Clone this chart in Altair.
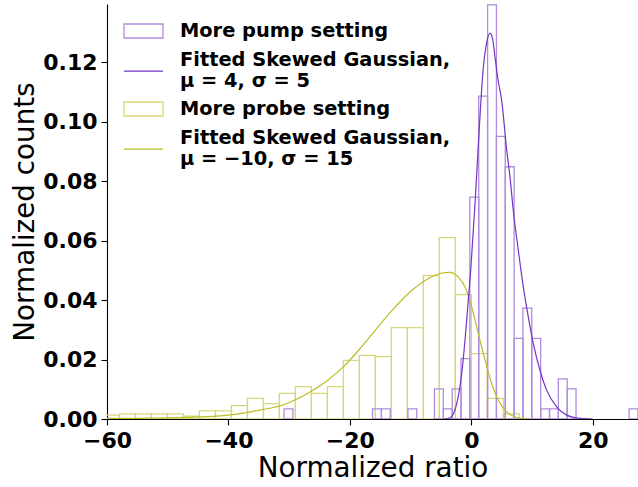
import altair as alt
import pandas as pd

# ---- series names (legend order) ----
S_PUMP = "More pump setting"
S_PUMP_FIT = "Fitted Skewed Gaussian,|μ = 4, σ = 5"
S_PROBE = "More probe setting"
S_PROBE_FIT = "Fitted Skewed Gaussian,|μ = −10, σ = 15"
series_order = [S_PUMP, S_PUMP_FIT, S_PROBE, S_PROBE_FIT]
series_colors = ["#b08cdd", "#7535c0", "#d7d77a", "#bcbd22"]

# ---- "More probe setting" histogram (bin left edges, bin width, density) ----
probe_bin_left = [-60.58, -57.95, -55.31, -52.68, -50.04, -47.41, -44.78, -42.14,
                  -39.51, -36.87, -34.24, -31.61, -28.97, -26.34, -23.70, -21.07,
                  -18.44, -15.80, -13.17, -10.53, -7.90, -5.27, -2.63, 0.00,
                  2.63, 5.27]
probe_bin_width = 2.634
probe_density = [0.0013, 0.0017, 0.0017, 0.0017, 0.0017, 0.0010, 0.0027, 0.0027,
                 0.0045, 0.0069, 0.0052, 0.0086, 0.0109, 0.0086, 0.0109, 0.0197,
                 0.0214, 0.0210, 0.0307, 0.0307, 0.0482, 0.0610, 0.0418, 0.0220,
                 0.0069, 0.0017]

# ---- "More pump setting" histogram (non-empty bins) ----
pump_bin_left = [-30.84, -16.27, -14.81, -10.44, -6.07, -4.61, -3.15, -1.70,
                 -0.24, 1.22, 2.68, 4.13, 5.59, 7.05, 8.50, 9.96, 11.42, 12.88,
                 14.33, 15.79, 25.99]
pump_bin_width = 1.457
pump_density = [0.0034, 0.0034, 0.0034, 0.0034, 0.0101, 0.0034, 0.0101, 0.0203,
                0.0746, 0.1085, 0.1392, 0.0950, 0.0848, 0.0271, 0.0373, 0.0271,
                0.0034, 0.0034, 0.0135, 0.0101, 0.0034]

# ---- fitted curves ----
pump_fit_x = [-4.5, -3.5, -2.4, -1.58, -0.76, -0.1, 0.61, 1.32, 1.98, 2.5, 3.08,
              3.5, 3.9, 4.4, 5.0, 5.83, 6.37, 6.91, 7.74, 8.56, 9.38, 10.2, 11.3,
              12.4, 14.06, 15.7, 17.9, 20.0]
pump_fit_y = [0.0, 0.0004, 0.0052, 0.0153, 0.0332, 0.0500, 0.0724, 0.0981, 0.1183,
              0.1262, 0.1297, 0.1278, 0.1216, 0.1140, 0.1071, 0.0903, 0.0813,
              0.0701, 0.0567, 0.0444, 0.0343, 0.0254, 0.0164, 0.0097, 0.0041,
              0.0013, 0.0002, 0.0]

probe_fit_x = [-60.0, -50.1, -44.6, -39.2, -34.8, -30.9, -28.2, -26.55, -23.8,
               -21.1, -18.3, -15.6, -12.8, -10.1, -7.34, -5.15, -3.5, -2.14,
               -1.04, 0.07, 1.15, 2.26, 3.36, 4.44, 5.83, 7.47, 9.5]
probe_fit_y = [0.0002, 0.0004, 0.0007, 0.0015, 0.0030, 0.0048, 0.0072, 0.0091,
               0.0128, 0.0175, 0.0237, 0.0304, 0.0371, 0.0427, 0.0469, 0.0489,
               0.0493, 0.0477, 0.0444, 0.0377, 0.0287, 0.0198, 0.0119, 0.0063,
               0.0024, 0.0005, 0.0]

x_ticks = [-60, -40, -20, 0, 20]
y_ticks = [0.0, 0.02, 0.04, 0.06, 0.08, 0.10, 0.12]

# ---- tables ----
bars = pd.concat([
    pd.DataFrame({"x0": probe_bin_left, "w": probe_bin_width,
                  "y": probe_density, "series": S_PROBE}),
    pd.DataFrame({"x0": pump_bin_left, "w": pump_bin_width,
                  "y": pump_density, "series": S_PUMP}),
], ignore_index=True)

fits = pd.concat([
    pd.DataFrame({"x": probe_fit_x, "y": probe_fit_y, "series": S_PROBE_FIT}),
    pd.DataFrame({"x": pump_fit_x, "y": pump_fit_y, "series": S_PUMP_FIT}),
], ignore_index=True)

FONT = "DejaVu Sans"
RECT_PATH = "M-1.5,-0.54H1.5V0.54H-1.5Z"
LINE_PATH = "M-1.5,0.9H1.5"

x_scale = alt.Scale(domain=[-60, 27.45], nice=False, zero=False)
y_scale = alt.Scale(domain=[0, 0.1395], nice=False, zero=False)
stroke_scale = alt.Scale(domain=series_order, range=series_colors)
shape_scale = alt.Scale(domain=series_order,
                        range=[RECT_PATH, LINE_PATH, RECT_PATH, LINE_PATH])


def make_legend():
    return alt.Legend(
        title=None, orient="none", legendX=22.5, legendY=13, padding=0,
        labelExpr="split(datum.label, '|')",
        labelFont=FONT, labelFontWeight="bold", labelFontSize=19.4,
        labelColor="black", labelLimit=600, labelOffset=22.5,
        symbolSize=676, symbolStrokeWidth=1.3, symbolFillColor="transparent",
        rowPadding=4.5,
    )


x_axis = alt.Axis(values=x_ticks, format="d", title="Normalized ratio",
                  labelFlush=False, labelPadding=5, titlePadding=3)
y_axis = alt.Axis(values=y_ticks, format=".2f", title="Normalized counts",
                  labelPadding=4, titlePadding=3)

bar_layer = alt.Chart(bars).mark_rect(
    fill="transparent", strokeWidth=1.3, clip=True
).transform_calculate(
    x1="datum.x0 + datum.w", y0="0"
).encode(
    x=alt.X("x0:Q", scale=x_scale, axis=x_axis),
    x2="x1:Q",
    y=alt.Y("y:Q", scale=y_scale, axis=y_axis),
    y2="y0:Q",
    stroke=alt.Stroke("series:N", scale=stroke_scale, legend=make_legend()),
)

line_layer = alt.Chart(fits).mark_line(
    strokeWidth=1.2, interpolate="monotone", clip=True
).encode(
    x=alt.X("x:Q", scale=x_scale),
    y=alt.Y("y:Q", scale=y_scale),
    stroke=alt.Stroke("series:N", scale=stroke_scale, legend=make_legend()),
    detail="series:N",
)

legend_layer = alt.Chart(fits).mark_point(filled=False).transform_filter(
    "false"
).encode(
    x=alt.X("x:Q", scale=x_scale),
    y=alt.Y("y:Q", scale=y_scale),
    stroke=alt.Stroke("series:N", scale=stroke_scale, legend=make_legend()),
    shape=alt.Shape("series:N", scale=shape_scale, legend=make_legend()),
)

chart = alt.layer(bar_layer, line_layer, legend_layer).properties(
    width=531, height=415,
    autosize=alt.AutoSizeParams(type="none"),
    padding={"left": 107, "top": 4, "right": 0, "bottom": 68},
).configure_view(
    stroke=None
).configure_axis(
    domainColor="black", domainWidth=1.1, tickColor="black", tickWidth=1.1,
    tickSize=6, grid=False,
    labelFont=FONT, labelFontWeight="bold", labelFontSize=22, labelColor="black",
    titleFont=FONT, titleFontWeight="normal", titleFontSize=27.8,
    titleColor="black",
)

chart.save("out.html", embed_options={"renderer": "svg", "actions": False})
